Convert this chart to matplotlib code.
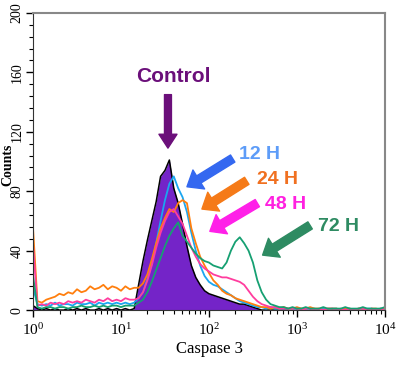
import numpy as np
import matplotlib
matplotlib.use('Agg')
import matplotlib.pyplot as plt
from matplotlib.ticker import MultipleLocator

plt.rcParams['font.family'] = 'Liberation Serif'
plt.rcParams['mathtext.fontset'] = 'stix'

# channel positions (log10 of Caspase 3 intensity), 0.05 decade channels
decades = np.linspace(0, 4, 81)

# counts per channel
control = [
    3, 1, 0, 1, 0, 1, 0, 0, 1, 0,
    1, 0, 1, 0, 0, 1, 0, 1, 0, 1,
    0, 1, 0, 1, 17, 33, 47, 60, 73, 90,
    94, 101, 82, 72, 58, 43, 30, 22, 17, 13,
    11, 10, 9, 8, 7, 6, 5, 4, 4, 3,
    2, 1, 0, 0, 0, 0, 0, 0, 0, 0,
    0, 0, 0, 0, 0, 0, 0, 0, 0, 0,
    0, 0, 0, 0, 0, 0, 0, 0, 0, 0, 0,
]
h12 = [
    15, 4, 3, 4, 3, 5, 3, 4, 4, 3,
    5, 4, 4, 5, 3, 5, 4, 5, 4, 5,
    4, 5, 4, 5, 8, 12, 21, 31, 45, 60,
    74, 85, 90, 82, 76, 66, 52, 40, 30, 23,
    19, 17, 16, 14, 12, 10, 8, 6, 5, 4,
    3, 2, 2, 1, 2, 1, 1, 1, 1, 0,
    1, 1, 0, 1, 1, 0, 1, 0, 1, 1,
    0, 1, 1, 0, 1, 0, 1, 1, 0, 1, 1,
]
h24 = [
    55, 6, 5, 7, 8, 9, 11, 10, 12, 11,
    14, 12, 13, 16, 14, 15, 17, 14, 16, 15,
    13, 16, 14, 15, 15, 18, 24, 34, 45, 55,
    62, 68, 66, 72, 74, 72, 55, 45, 36, 30,
    25, 20, 17, 13, 11, 10, 8, 7, 6, 5,
    4, 3, 2, 2, 1, 2, 1, 2, 1, 1,
    2, 1, 1, 2, 1, 1, 0, 1, 1, 1,
    0, 1, 1, 0, 1, 1, 0, 1, 1, 0, 1,
]
h48 = [
    44, 3, 4, 3, 5, 4, 5, 4, 6, 5,
    6, 5, 7, 6, 5, 7, 6, 8, 6, 7,
    6, 8, 7, 7, 8, 12, 20, 30, 42, 52,
    60, 66, 68, 63, 58, 50, 42, 36, 31, 28,
    26, 24, 23, 22, 22, 21, 20, 19, 17, 13,
    9, 6, 4, 3, 2, 2, 1, 1, 1, 1,
    1, 0, 1, 1, 0, 1, 0, 1, 1, 0,
    1, 0, 1, 0, 1, 1, 0, 1, 0, 1, 0,
]
h72 = [
    23, 2, 1, 2, 2, 1, 2, 2, 1, 2,
    2, 3, 2, 2, 3, 2, 3, 2, 3, 3,
    2, 3, 3, 3, 5, 7, 12, 19, 27, 35,
    43, 50, 55, 59, 50, 46, 42, 38, 35, 33,
    32, 30, 29, 28, 32, 40, 46, 49, 45, 40,
    32, 20, 12, 7, 4, 3, 2, 2, 1, 2,
    1, 1, 2, 1, 1, 1, 2, 1, 1, 1,
    1, 2, 1, 1, 1, 2, 1, 1, 1, 1, 2,
]

x = 10 ** decades

fig = plt.figure(figsize=(3.98, 3.80), dpi=100)
ax = fig.add_axes([0.083, 0.184, 0.884, 0.782])

# control histogram: filled purple with black outline
ax.fill_between(x, control, color='#7424c8', lw=0)
ax.plot(x, control, color='black', lw=1.1)
ax.plot(x, h12, color='#1aa6f0', lw=1.3)
ax.plot(x, h24, color='#ff7f0e', lw=1.3)
ax.plot(x, h48, color='#ff3d9e', lw=1.3)
ax.plot(x, h72, color='#16a072', lw=1.3)

ax.set_xscale('log')
ax.set_xlim(1, 1e4)
ax.set_ylim(0, 200)

# axes look
for side in ['top', 'right']:
    ax.spines[side].set_color('#888888')
    ax.spines[side].set_linewidth(1.5)
ax.spines['left'].set_color('#333333')
ax.spines['bottom'].set_color('#333333')

ax.yaxis.set_major_locator(MultipleLocator(40))
ax.yaxis.set_minor_locator(MultipleLocator(8))
ax.tick_params(axis='both', which='major', length=5, width=1)
ax.tick_params(axis='both', which='minor', length=3, width=0.8)
ax.tick_params(axis='x', labelsize=11, pad=4)
ax.tick_params(axis='y', labelsize=10, pad=2)
for lab in ax.get_yticklabels():
    lab.set_rotation(90)
    lab.set_va('center')

# "Counts" sits left of the tick labels
ax.set_ylabel('Counts', fontsize=10, fontweight='bold')
ax.yaxis.set_label_coords(-0.053, 0.49)
ax.set_xlabel('Caspase 3', fontsize=12, labelpad=2)

# annotations
sans = 'Liberation Sans'
ax.text(10 ** 1.59, 157, 'Control', color='#6b0f7a', fontsize=15, fontweight='bold',
        family=sans, ha='center', va='center')
ax.annotate('', xy=(10 ** 1.534, 109), xytext=(10 ** 1.534, 145),
            arrowprops=dict(width=5, headwidth=13, headlength=10, color='#6b0f7a', shrink=0))

labels = ['12 H', '24 H', '48 H', '72 H']
text_colors = ['#5d9cf8', '#f07020', '#ff20e0', '#2e8b62']
arrow_colors = ['#3468f0', '#f57a18', '#ff20e8', '#2e8b62']
text_pos = [(2.34, 105), (2.55, 88), (2.64, 71), (3.24, 56)]
arrow_tail = [(2.27, 102), (2.43, 87), (2.55, 72), (3.15, 57)]
arrow_tip = [(1.75, 83), (1.92, 68), (2.01, 53), (2.61, 37)]

for lab, tc, ac, tp, at, ah in zip(labels, text_colors, arrow_colors, text_pos, arrow_tail, arrow_tip):
    ax.text(10 ** tp[0], tp[1], lab, color=tc, fontsize=14, fontweight='bold',
            family=sans, ha='left', va='center')
    ax.annotate('', xy=(10 ** ah[0], ah[1]), xytext=(10 ** at[0], at[1]),
                arrowprops=dict(width=6, headwidth=16, headlength=10, color=ac, shrink=0))

fig.savefig('out.png', dpi=100)
